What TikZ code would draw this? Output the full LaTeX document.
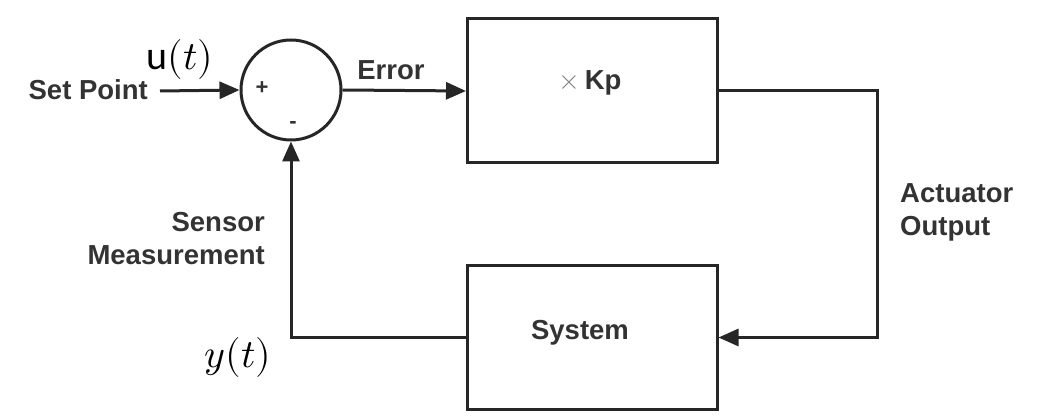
\documentclass[tikz,border=0pt]{standalone}
\usepackage{fontspec}
\usepackage{unicode-math}
\setmathfont{Latin Modern Math}
\setsansfont{Liberation Sans}
\usetikzlibrary{arrows.meta,positioning}
\definecolor{ink}{gray}{0.15}
\definecolor{txt}{gray}{0.2}

\begin{document}
\begin{tikzpicture}[x=1pt,y=1pt]
\tikzstyle{block}=[draw=ink,line width=3pt,rectangle,minimum width=250pt,minimum height=144pt,inner sep=0pt]
\tikzstyle{sumdot}=[draw=ink,line width=3pt,circle,minimum size=100pt,inner sep=0pt]
\tikzstyle{arrow}=[draw=ink,line width=3pt,-{Triangle[length=20pt,width=17pt]}]
\tikzstyle{lbl}=[text=txt,font=\sffamily\bfseries\fontsize{27.5}{33}\selectfont,inner sep=0pt]
\tikzstyle{sgn}=[text=txt,font=\sffamily\bfseries\fontsize{22}{24}\selectfont,inner sep=0pt]
\tikzstyle{mth}=[text=black,font=\fontsize{40}{44}\selectfont,inner sep=0pt]
\useasboundingbox (0,0) rectangle (1045,-419);
\node [sumdot] at (291,-90) (sum) {};
\node [block] at (592.5,-91) (kp) {};
\node [block] at (592,-337.5) (sys) {};
\coordinate (sp) at (160,-91);
\node [lbl,anchor=east] at (148,-90) (setpt) {Set Point};
\node [mth] at (180,-60) (u) {{\fontspec{Carlito}u}$(t)$};
\node [sgn] at (262,-88) (plus) {+};
\node [sgn] at (293,-125) (minus) {-};
\node [lbl] at (391,-70) (err) {Error};
\node [lbl] at (590,-83) (gain) {{\color{gray}\fontsize{28}{30}\selectfont$\times$}\,Kp};
\node [lbl] at (580,-333) (systxt) {System};
\node [lbl,anchor=west,align=left] at (900,-212) (act) {Actuator\\Output};
\node [lbl,anchor=east,align=right] at (265,-239) (sens) {Sensor\\Measurement};
\node [mth] at (238,-358) (y) {$y(t)$};
\draw [arrow] (sp) -- (sum.west);
\draw [arrow] (sum.east) -- (kp.west);
\draw [arrow] (kp.east) -- ++(158,0) |- (sys.east);
\draw [arrow] (sys.west) -| (sum.south);
\end{tikzpicture}
\end{document}
